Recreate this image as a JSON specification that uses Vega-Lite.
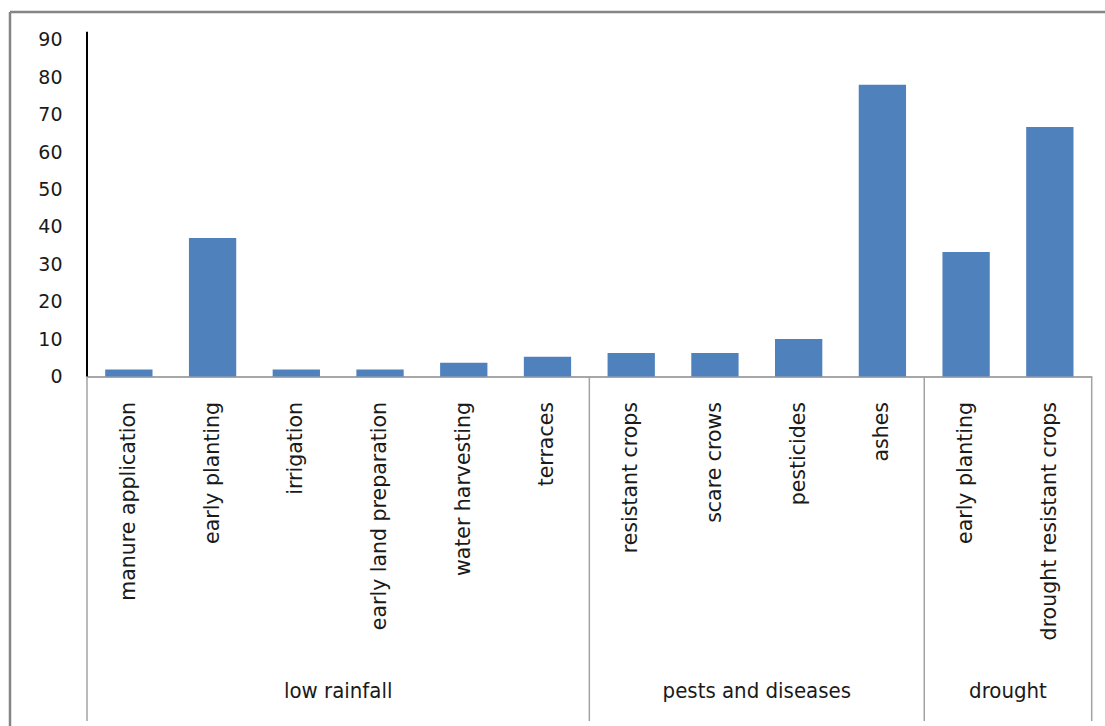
{
  "$schema": "https://vega.github.io/schema/vega-lite/v6.json",
  "autosize": {"type": "none"},
  "padding": {"left": 10, "top": 12, "right": 0, "bottom": 0},
  "width": 1095,
  "height": 714,
  "background": "#ffffff",
  "view": {"stroke": "#858585", "strokeWidth": 2.5, "strokeDash": [1095, 1809, 714, 0]},
  "datasets": {
    "bars": [
      {"id": "low rainfall|manure application", "group": "low rainfall", "value": 1.9},
      {"id": "low rainfall|early planting", "group": "low rainfall", "value": 37},
      {"id": "low rainfall|irrigation", "group": "low rainfall", "value": 1.9},
      {"id": "low rainfall|early land preparation", "group": "low rainfall", "value": 1.9},
      {"id": "low rainfall|water harvesting", "group": "low rainfall", "value": 3.7},
      {"id": "low rainfall|terraces", "group": "low rainfall", "value": 5.3},
      {"id": "pests and diseases|resistant crops", "group": "pests and diseases", "value": 6.3},
      {"id": "pests and diseases|scare crows", "group": "pests and diseases", "value": 6.3},
      {"id": "pests and diseases|pesticides", "group": "pests and diseases", "value": 10},
      {"id": "pests and diseases|ashes", "group": "pests and diseases", "value": 78},
      {"id": "drought|early planting", "group": "drought", "value": 33.3},
      {"id": "drought|drought resistant crops", "group": "drought", "value": 66.7}
    ],
    "groups": [
      {"group": "low rainfall", "first": "low rainfall|manure application", "mid": "low rainfall|early land preparation", "last": "low rainfall|terraces"},
      {"group": "pests and diseases", "first": "pests and diseases|resistant crops", "mid": "pests and diseases|pesticides", "last": "pests and diseases|ashes"},
      {"group": "drought", "first": "drought|early planting", "mid": "drought|drought resistant crops", "last": "drought|drought resistant crops"}
    ]
  },
  "layer": [
    {
      "data": {"name": "bars"},
      "mark": {"type": "bar", "color": "#4f81bd", "width": {"band": 0.565}},
      "encoding": {
        "x": {
          "field": "id",
          "type": "nominal",
          "sort": null,
          "scale": {"range": [77, 1081.7], "paddingInner": 0, "paddingOuter": 0},
          "axis": {
            "orient": "bottom",
            "offset": -349.5,
            "title": null,
            "domainColor": "#8a8a8a",
            "domainWidth": 1.5,
            "ticks": false,
            "tickSize": 0,
            "labelAngle": -90,
            "labelAlign": "right",
            "labelBaseline": "middle",
            "labelPadding": 25,
            "labelFont": "DejaVu Sans",
            "labelFontSize": 20.5,
            "labelColor": "#1a1a1a",
            "labelLimit": 400,
            "labelExpr": "split(datum.value, '|')[1]"
          }
        },
        "y": {
          "field": "value",
          "type": "quantitative",
          "scale": {"domain": [-93.45, 97.46], "nice": false, "zero": false},
          "axis": {
            "orient": "left",
            "offset": -77,
            "title": null,
            "values": [0, 10, 20, 30, 40, 50, 60, 70, 80, 90],
            "domain": false,
            "ticks": false,
            "tickSize": 0,
            "grid": false,
            "labelPadding": 25,
            "labelFont": "DejaVu Sans",
            "labelFontSize": 19,
            "labelColor": "#1a1a1a"
          }
        }
      }
    },
    {
      "data": {"name": "groups"},
      "mark": {"type": "rule", "color": "#a3a3a3", "strokeWidth": 1.5},
      "encoding": {
        "x": {"field": "first", "type": "nominal", "sort": null, "bandPosition": 0},
        "y": {"datum": 0},
        "y2": {"datum": -92.1}
      }
    },
    {
      "data": {"name": "groups"},
      "transform": [{"filter": "datum.group === 'drought'"}],
      "mark": {"type": "rule", "color": "#a3a3a3", "strokeWidth": 1.5},
      "encoding": {
        "x": {"field": "last", "type": "nominal", "sort": null, "bandPosition": 1},
        "y": {"datum": 0},
        "y2": {"datum": -92.1}
      }
    },
    {
      "data": {"name": "groups"},
      "transform": [{"filter": "datum.group === 'low rainfall'"}],
      "mark": {"type": "rule", "color": "#000000", "strokeWidth": 2},
      "encoding": {
        "x": {"field": "first", "type": "nominal", "sort": null, "bandPosition": 0},
        "y": {"datum": 0},
        "y2": {"datum": 92.2}
      }
    },
    {
      "data": {"name": "groups"},
      "mark": {"type": "text", "font": "DejaVu Sans Condensed", "fontSize": 22, "color": "#1a1a1a", "align": "center", "baseline": "middle"},
      "encoding": {
        "x": {"field": "mid", "type": "nominal", "sort": null, "bandPosition": 0},
        "y": {"datum": -84.1},
        "text": {"field": "group"}
      }
    }
  ]
}
